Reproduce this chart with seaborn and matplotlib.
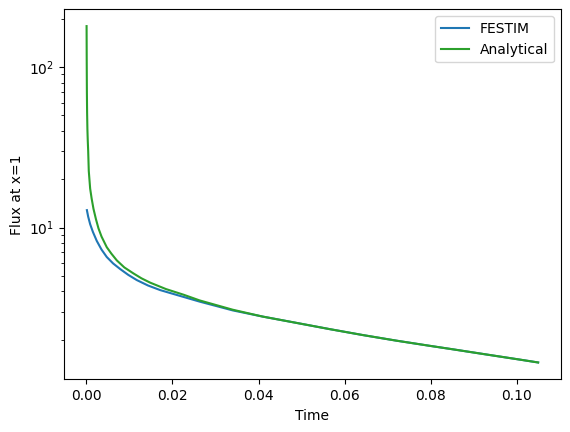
import matplotlib
matplotlib.use("Agg")
import matplotlib.pyplot as plt
import seaborn as sns

# values
festim_t = [0.0001, 0.0004, 0.00086, 0.0015, 0.0024, 0.0035, 0.00472, 0.0062,
            0.00784, 0.0097, 0.01171, 0.0143, 0.01715, 0.02257, 0.0263, 0.0340,
            0.0410, 0.0488, 0.0566, 0.0643, 0.0721, 0.0798, 0.0852, 0.0930,
            0.1008, 0.1050]
festim_flux = [12.85, 11.7, 10.5, 9.4, 8.26, 7.3, 6.56, 5.98,
               5.52, 5.08, 4.71, 4.36, 4.08, 3.70, 3.46, 3.05,
               2.79, 2.55, 2.33, 2.14, 1.975, 1.835, 1.745, 1.62,
               1.505, 1.445]

analytical_t = [0.00003, 0.00006, 0.0001, 0.00015, 0.00022, 0.0003, 0.0004, 0.00054,
                0.00086, 0.0012, 0.00163, 0.0022, 0.00279, 0.0035, 0.00472, 0.0058,
                0.00705, 0.0088, 0.01094, 0.0128, 0.01482, 0.0185, 0.02257, 0.0263,
                0.0340, 0.0410, 0.0488, 0.0566, 0.0643, 0.0721, 0.0798, 0.0852,
                0.0930, 0.1008, 0.1050]
analytical_flux = [180, 110, 70, 52, 41, 35, 30, 22.5,
                   17.5, 15.2, 13.1, 11.3, 9.9, 8.8, 7.55, 6.88,
                   6.25, 5.65, 5.18, 4.83, 4.54, 4.14, 3.82, 3.52,
                   3.08, 2.79, 2.55, 2.33, 2.14, 1.975, 1.835, 1.745,
                   1.62, 1.505, 1.445]

fig, ax = plt.subplots(figsize=(5.7, 4.32), dpi=100)
fig.subplots_adjust(left=0.1123, right=0.9837, bottom=0.122, top=0.9785)

sns.lineplot(x=festim_t, y=festim_flux, color="tab:blue", label="FESTIM", ax=ax)
sns.lineplot(x=analytical_t, y=analytical_flux, color="tab:green", label="Analytical", ax=ax)

ax.set_yscale("log")
ax.set_xlabel("Time")
ax.set_ylabel("Flux at x=1")
ax.legend(loc="upper right")

fig.savefig("out.png", dpi=100)
